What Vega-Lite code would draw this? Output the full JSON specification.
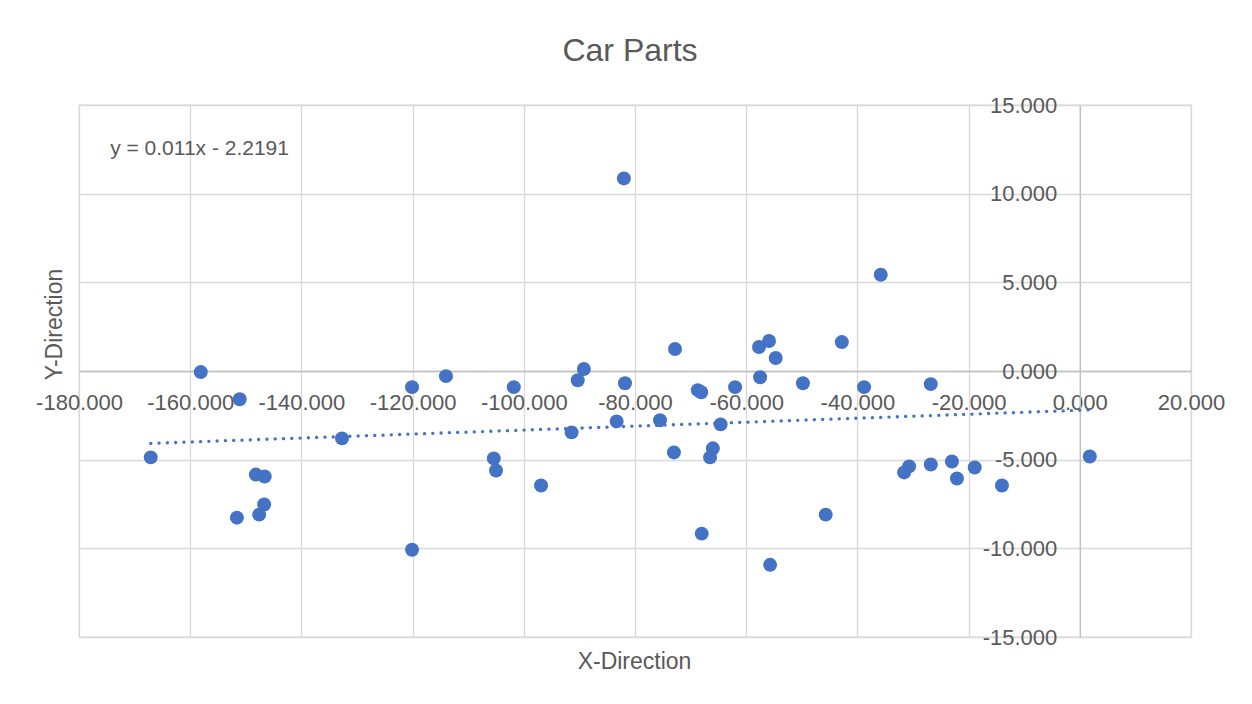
{
  "$schema": "https://vega.github.io/schema/vega-lite/v6.json",
  "width": 1112,
  "height": 532,
  "autosize": {"type": "none"},
  "padding": {"left": 79, "top": 105, "right": 61, "bottom": 67},
  "background": "#ffffff",
  "config": {"view": {"stroke": "#d9d9d9", "strokeWidth": 1.3}},
  "title": {"text": "Car Parts", "font": "Liberation Sans", "fontSize": 32, "fontWeight": "normal", "color": "#595959", "anchor": "middle", "frame": "group", "baseline": "alphabetic", "offset": 1, "dx": -5},
  "data": {"values": [
    {"x": -167.1, "y": -4.87}, {"x": -158.1, "y": -0.06}, {"x": -151.1, "y": -1.59}, {"x": -151.6, "y": -8.27},
    {"x": -148.2, "y": -5.84}, {"x": -146.6, "y": -5.95}, {"x": -147.6, "y": -8.10}, {"x": -146.7, "y": -7.53},
    {"x": -132.7, "y": -3.80}, {"x": -120.1, "y": -0.91}, {"x": -120.1, "y": -10.08}, {"x": -114.0, "y": -0.29},
    {"x": -105.4, "y": -4.93}, {"x": -105.0, "y": -5.61}, {"x": -101.8, "y": -0.91}, {"x": -96.9, "y": -6.46},
    {"x": -91.4, "y": -3.46}, {"x": -90.3, "y": -0.52}, {"x": -89.2, "y": 0.11}, {"x": -83.3, "y": -2.84},
    {"x": -82.0, "y": 10.86}, {"x": -81.8, "y": -0.69}, {"x": -75.5, "y": -2.78}, {"x": -72.8, "y": 1.24},
    {"x": -73.0, "y": -4.59}, {"x": -68.7, "y": -1.08}, {"x": -68.1, "y": -1.20}, {"x": -68.0, "y": -9.17},
    {"x": -66.5, "y": -4.87}, {"x": -66.0, "y": -4.36}, {"x": -64.6, "y": -3.01}, {"x": -62.0, "y": -0.91},
    {"x": -57.7, "y": 1.35}, {"x": -57.5, "y": -0.35}, {"x": -55.9, "y": 1.69}, {"x": -54.7, "y": 0.73},
    {"x": -55.7, "y": -10.93}, {"x": -49.8, "y": -0.69}, {"x": -45.7, "y": -8.10}, {"x": -42.8, "y": 1.63},
    {"x": -38.8, "y": -0.91}, {"x": -35.8, "y": 5.43}, {"x": -31.6, "y": -5.72}, {"x": -30.7, "y": -5.38},
    {"x": -26.8, "y": -5.27}, {"x": -26.8, "y": -0.74}, {"x": -23.0, "y": -5.10}, {"x": -22.1, "y": -6.06},
    {"x": -18.9, "y": -5.44}, {"x": -14.0, "y": -6.46}, {"x": 1.8, "y": -4.82}
  ]},
  "encoding": {
    "x": {
      "field": "x", "type": "quantitative",
      "scale": {"domain": [-180, 20], "nice": false, "zero": false},
      "axis": {
        "title": "X-Direction",
        "values": [-180, -160, -140, -120, -100, -80, -60, -40, -20, 0, 20],
        "labelExpr": "replace(format(datum.value, '.3f'), '\u2212', '-')",
        "offset": -266,
        "grid": true, "gridColor": "#d9d9d9", "gridWidth": 1.3,
        "domain": true, "domainColor": "#bfbfbf", "domainWidth": 1.3,
        "ticks": false, "tickSize": 0,
        "labelPadding": 21, "labelFont": "Liberation Sans", "labelFontSize": 22, "labelColor": "#595959",
        "labelFlush": false, "labelOverlap": false,
        "titleX": 555, "titleY": 297, "titleBaseline": "alphabetic", "titleAlign": "center",
        "titleFont": "Liberation Sans", "titleFontSize": 23, "titleColor": "#595959", "titleFontWeight": "normal"
      }
    },
    "y": {
      "field": "y", "type": "quantitative",
      "scale": {"domain": [-15, 15], "nice": false, "zero": false},
      "axis": {
        "title": "Y-Direction",
        "values": [-15, -10, -5, 0, 5, 10, 15],
        "labelExpr": "replace(format(datum.value, '.3f'), '\u2212', '-')",
        "offset": -1000.8,
        "grid": true, "gridColor": "#d9d9d9", "gridWidth": 1.3,
        "domain": true, "domainColor": "#bfbfbf", "domainWidth": 1.3,
        "ticks": false, "tickSize": 0,
        "labelPadding": 23, "labelFont": "Liberation Sans", "labelFontSize": 22, "labelColor": "#595959",
        "labelFlush": false, "labelOverlap": false,
        "titleX": -1018, "titleY": 219, "titleBaseline": "alphabetic", "titleAlign": "center", "titleAngle": -90,
        "titleFont": "Liberation Sans", "titleFontSize": 23, "titleColor": "#595959", "titleFontWeight": "normal"
      }
    }
  },
  "layer": [
    {
      "mark": {"type": "circle", "size": 195, "color": "#4472C4", "opacity": 1}
    },
    {
      "transform": [{"regression": "y", "on": "x"}],
      "mark": {"type": "line", "color": "#4472C4", "strokeWidth": 3.3, "strokeDash": [0.1, 8.2], "strokeCap": "round"}
    },
    {
      "data": {"values": [{"x": -174.4, "y": 12.18, "label": "y = 0.011x - 2.2191"}]},
      "mark": {"type": "text", "align": "left", "baseline": "alphabetic", "font": "Liberation Sans", "fontSize": 21, "color": "#595959"},
      "encoding": {"text": {"field": "label"}}
    }
  ]
}
